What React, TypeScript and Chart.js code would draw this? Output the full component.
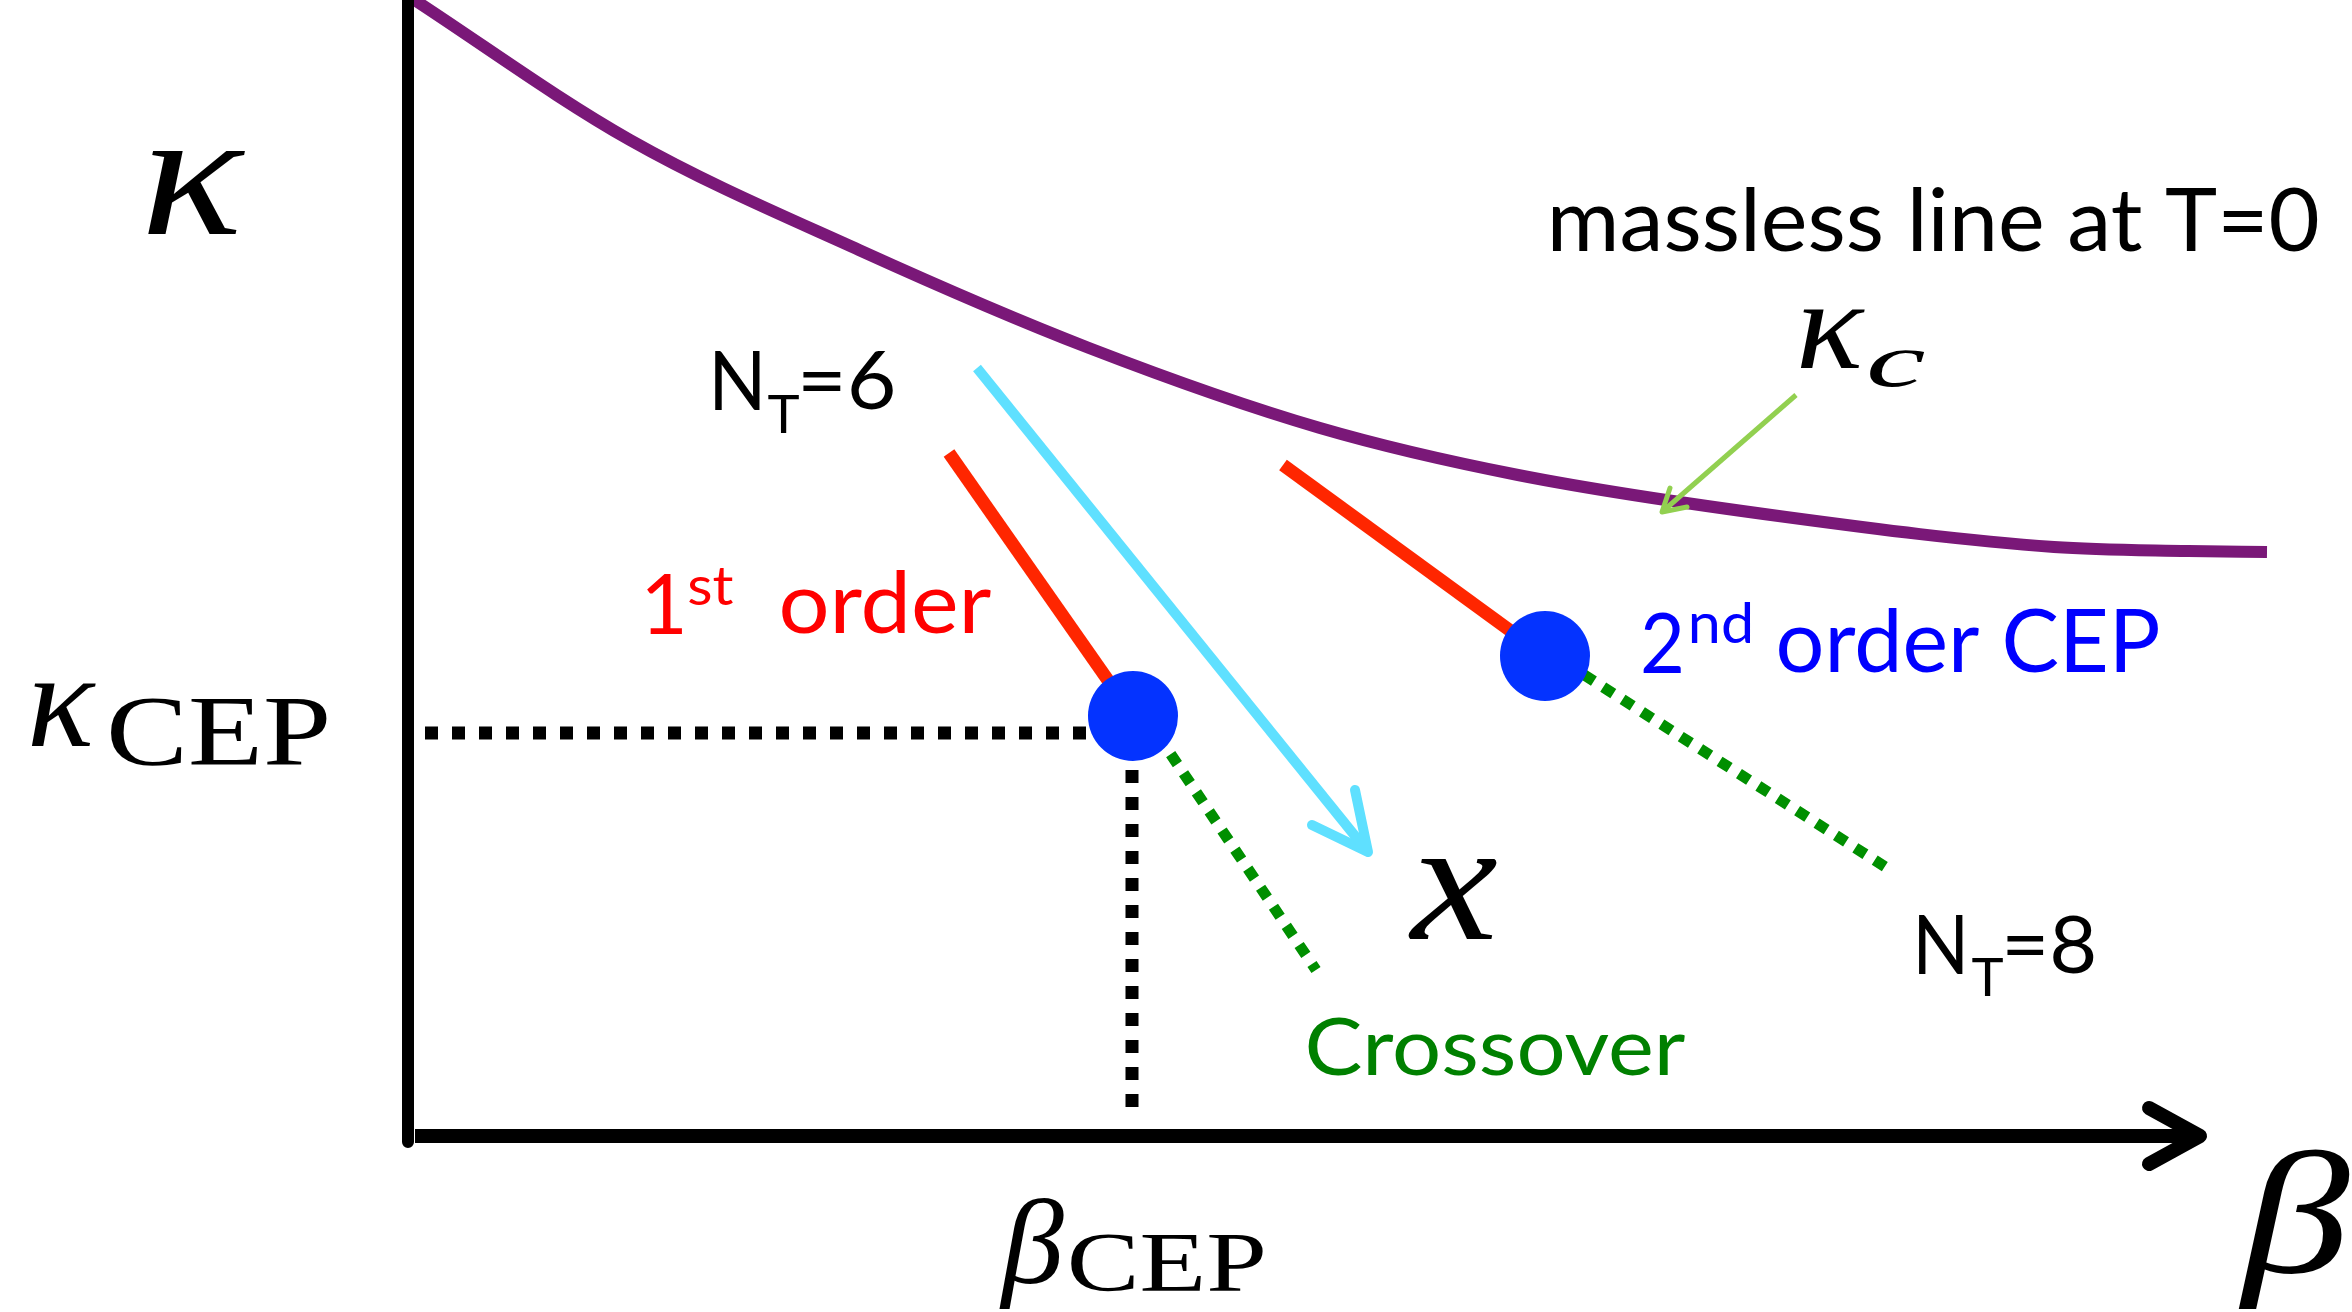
import React, { useEffect, useRef } from "react";
import { Chart, registerables } from "chart.js";

Chart.register(...registerables);

// ---- data (beta, kappa in schematic units; origin at the axes corner) ----
const masslessBeta = [0.02, 2.22, 4.51, 6.81, 9.12, 11.1, 13.78, 16.46, 17.8, 18.59];
const masslessKappa = [11.39, 9.96, 8.86, 7.88, 7.08, 6.61, 6.19, 5.89, 5.85, 5.84];

const cepBeta = [7.25, 11.37];
const cepKappa = [4.2, 4.8];

const firstOrder6Beta = [5.41, 7.25];
const firstOrder6Kappa = [6.83, 4.2];
const firstOrder8Beta = [8.75, 11.37];
const firstOrder8Kappa = [6.71, 4.8];

const crossover6Beta = [7.37, 9.08];
const crossover6Kappa = [4.2, 1.66];
const crossover8Beta = [11.37, 14.79];
const crossover8Kappa = [4.86, 2.68];

const guideHBeta = [0.17, 7.25];
const guideHKappa = [4.03, 4.03];
const guideVBeta = [7.24, 7.24];
const guideVKappa = [4.2, 0.18];

const xArrowBeta = [5.69, 9.6];
const xArrowKappa = [7.68, 2.84];
const xHeadBeta = [9.47, 9.6, 9.04];
const xHeadKappa = [3.46, 2.84, 3.11];

const kcPointerBeta = [13.88, 12.54];
const kcPointerKappa = [7.41, 6.24];
const kcHeadBeta = [12.79, 12.54, 12.62];
const kcHeadKappa = [6.29, 6.24, 6.48];

const yAxisBeta = [0, 0];
const yAxisKappa = [11.4, -0.06];
const xAxisBeta = [0.07, 17.92];
const xAxisKappa = [0, 0];
const xAxisHeadBeta = [17.41, 17.92, 17.41];
const xAxisHeadKappa = [0.28, 0, -0.28];

// ---- labels: text fitted to an ink box [betaLeft, kappaTop, betaRight, kappaBottom] ----
type Label = { text: string; box: number[]; kind: "math" | "roman" | "sans"; color: string };
const labels: Label[] = [
  { text: "κ", box: [-2.61, 9.85, -1.61, 9.02], kind: "math", color: "#000" },
  { text: "κ", box: [-3.77, 4.52, -3.11, 3.9], kind: "math", color: "#000" },
  { text: "CEP", box: [-2.97, 4.38, -0.81, 3.7], kind: "roman", color: "#000" },
  { text: "β", box: [5.91, -0.62, 6.56, -1.72], kind: "math", color: "#000" },
  { text: "CEP", box: [6.63, -0.99, 8.55, -1.57], kind: "roman", color: "#000" },
  { text: "β", box: [18.3, -0.14, 19.42, -1.72], kind: "math", color: "#000" },
  { text: "x", box: [9.99, 2.77, 10.89, 1.97], kind: "math", color: "#000" },
  { text: "κ", box: [13.92, 8.26, 14.58, 7.68], kind: "math", color: "#000" },
  { text: "c", box: [14.62, 7.86, 15.17, 7.49], kind: "math", color: "#000" },
  { text: "massless line at T=0", box: [11.45, 9.49, 19.09, 8.84], kind: "sans", color: "#000" },
  { text: "N", box: [3.07, 7.86, 3.52, 7.26], kind: "sans", color: "#000" },
  { text: "T", box: [3.6, 7.41, 3.91, 7.03], kind: "sans", color: "#000" },
  { text: "=6", box: [3.95, 7.86, 4.85, 7.26], kind: "sans", color: "#000" },
  { text: "1", box: [2.39, 5.63, 2.74, 5.02], kind: "sans", color: "#FF0000" },
  { text: "st", box: [2.81, 5.68, 3.25, 5.3], kind: "sans", color: "#FF0000" },
  { text: "order", box: [3.74, 5.66, 5.83, 5.02], kind: "sans", color: "#FF0000" },
  { text: "2", box: [12.35, 5.24, 12.73, 4.63], kind: "sans", color: "#0000FF" },
  { text: "nd", box: [12.84, 5.34, 13.42, 4.92], kind: "sans", color: "#0000FF" },
  { text: "order CEP", box: [13.71, 5.29, 17.5, 4.63], kind: "sans", color: "#0000FF" },
  { text: "N", box: [15.11, 2.22, 15.55, 1.62], kind: "sans", color: "#000" },
  { text: "T", box: [15.64, 1.78, 15.95, 1.4], kind: "sans", color: "#000" },
  { text: "=8", box: [15.99, 2.22, 16.86, 1.62], kind: "sans", color: "#000" },
  { text: "Crossover", box: [9.0, 1.2, 12.77, 0.6], kind: "sans", color: "#008000" },
];

const fonts: Record<string, string> = {
  math: 'italic 100px "Liberation Serif"',
  roman: '100px "Liberation Serif"',
  sans: '100px Lato',
};

const pts = (bs: number[], ks: number[]) => bs.map((b, i) => ({ x: b, y: ks[i] }));

const labelPlugin = {
  id: "fittedLabels",
  afterDatasetsDraw(chart: any) {
    const ctx = chart.ctx as CanvasRenderingContext2D;
    const xs = chart.scales.x;
    const ys = chart.scales.y;
    for (const l of labels) {
      const left = xs.getPixelForValue(l.box[0]);
      const top = ys.getPixelForValue(l.box[1]);
      const right = xs.getPixelForValue(l.box[2]);
      const bottom = ys.getPixelForValue(l.box[3]);
      ctx.save();
      ctx.font = fonts[l.kind];
      ctx.textAlign = "left";
      ctx.textBaseline = "alphabetic";
      const m = ctx.measureText(l.text);
      const inkW = m.actualBoundingBoxLeft + m.actualBoundingBoxRight;
      const inkH = m.actualBoundingBoxAscent + m.actualBoundingBoxDescent;
      const sx = (right - left) / inkW;
      const sy = (bottom - top) / inkH;
      ctx.translate(left + m.actualBoundingBoxLeft * sx, top + m.actualBoundingBoxAscent * sy);
      ctx.scale(sx, sy);
      ctx.fillStyle = l.color;
      ctx.fillText(l.text, 0, 0);
      ctx.restore();
    }
  },
};

function lineSet(data: any[], color: string, width: number, order: number, extra: any = {}) {
  return {
    data,
    showLine: true,
    borderColor: color,
    borderWidth: width,
    pointRadius: 0,
    fill: false,
    clip: false,
    order,
    borderCapStyle: "butt",
    borderJoinStyle: "round",
    ...extra,
  };
}

export default function App() {
  const ref = useRef<HTMLCanvasElement>(null);
  useEffect(() => {
    if (!ref.current) return;
    const chart = new Chart(ref.current, {
      type: "scatter",
      data: {
        datasets: [
          {
            data: pts(cepBeta, cepKappa),
            pointRadius: 45,
            pointBackgroundColor: "#0433FF",
            pointBorderWidth: 0,
            showLine: false,
            clip: false,
            order: 0,
          } as any,
          lineSet(pts(masslessBeta, masslessKappa), "#7A1878", 12, 5, { cubicInterpolationMode: "monotone" }),
          lineSet(pts(firstOrder6Beta, firstOrder6Kappa), "#FF2600", 13, 3),
          lineSet(pts(firstOrder8Beta, firstOrder8Kappa), "#FF2600", 13, 3),
          lineSet(pts(crossover6Beta, crossover6Kappa), "#008F00", 11, 3, { borderDash: [12, 11] }),
          lineSet(pts(crossover8Beta, crossover8Kappa), "#008F00", 11, 3, { borderDash: [12, 11] }),
          lineSet(pts(guideHBeta, guideHKappa), "#000000", 13, 3, { borderDash: [13, 14] }),
          lineSet(pts(guideVBeta, guideVKappa), "#000000", 13, 3, { borderDash: [13, 14] }),
          lineSet(pts(xArrowBeta, xArrowKappa), "#5FE0FF", 10, 2),
          lineSet(pts(xHeadBeta, xHeadKappa), "#5FE0FF", 10, 2, { borderCapStyle: "round" }),
          lineSet(pts(kcPointerBeta, kcPointerKappa), "#92D050", 5, 2),
          lineSet(pts(kcHeadBeta, kcHeadKappa), "#92D050", 5, 2, { borderCapStyle: "round" }),
          lineSet(pts(yAxisBeta, yAxisKappa), "#000000", 12, 4),
          lineSet(pts(xAxisBeta, xAxisKappa), "#000000", 14, 4),
          lineSet(pts(xAxisHeadBeta, xAxisHeadKappa), "#000000", 14, 4, { borderCapStyle: "round" }),
        ] as any,
      },
      options: {
        animation: false,
        responsive: false,
        devicePixelRatio: 1,
        events: [],
        layout: { padding: 0, autoPadding: false },
        plugins: { legend: { display: false }, tooltip: { enabled: false } },
        scales: {
          x: { type: "linear", min: -4.08, max: 19.44, display: false },
          y: { type: "linear", min: -1.76, max: 11.36, display: false },
        },
      },
      plugins: [labelPlugin],
    });
    return () => chart.destroy();
  }, []);
  return (
    <div style={{ position: "absolute", left: 0, top: 0, width: 2352, height: 1312, background: "#fff" }}>
      <canvas ref={ref} width={2352} height={1312} style={{ display: "block", width: 2352, height: 1312 }} />
    </div>
  );
}
